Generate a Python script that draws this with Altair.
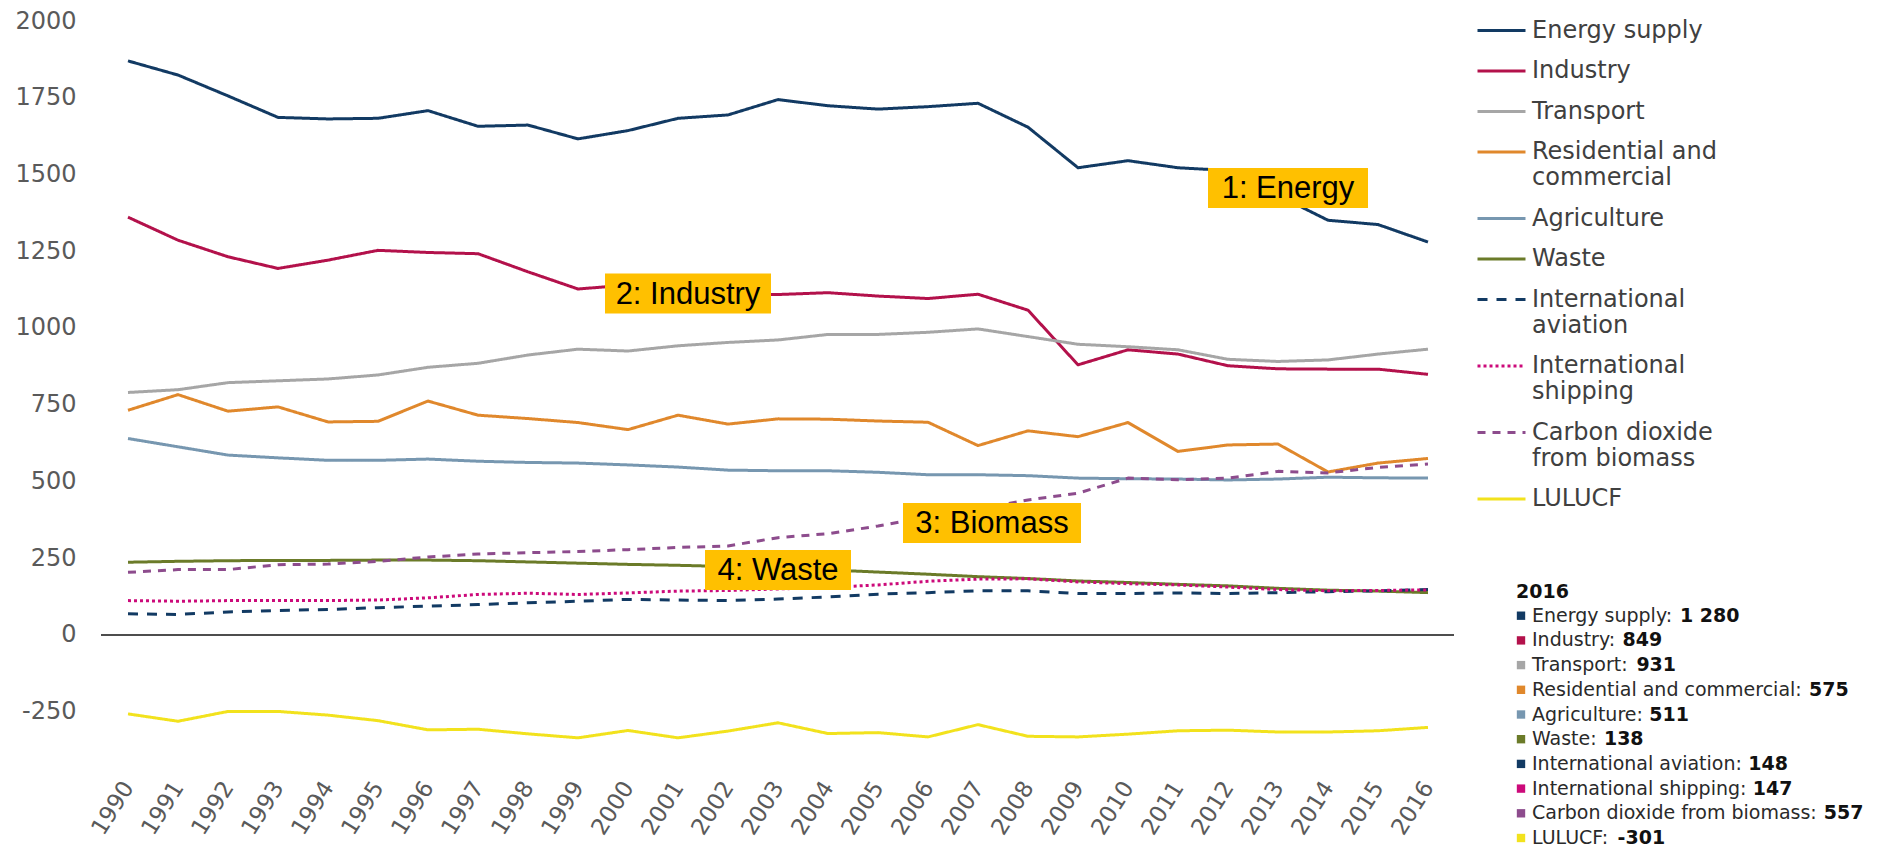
import altair as alt
import pandas as pd

# ---------------- data ----------------
years = list(range(1990, 2017))

series = ["Energy supply", "Industry", "Transport", "Residential and commercial",
          "Agriculture", "Waste", "International aviation", "International shipping",
          "Carbon dioxide from biomass", "LULUCF"]

legend_lines = [["Energy supply"], ["Industry"], ["Transport"],
                ["Residential and", "commercial"], ["Agriculture"], ["Waste"],
                ["International", "aviation"], ["International", "shipping"],
                ["Carbon dioxide", "from biomass"], ["LULUCF"]]

energy_supply = [1870, 1824, 1756, 1686, 1681, 1683, 1708, 1657, 1661, 1616, 1643,
                 1683, 1694, 1744, 1724, 1713, 1721, 1732, 1654, 1522, 1545, 1522,
                 1513, 1432, 1351, 1337, 1280]
industry = [1361, 1286, 1232, 1194, 1221, 1253, 1246, 1242, 1183, 1127, 1140,
            1118, 1107, 1109, 1115, 1104, 1096, 1110, 1058, 880, 929, 915,
            877, 867, 866, 866, 849]
transport = [790, 799, 822, 828, 834, 847, 872, 885, 912, 931, 925,
             942, 953, 961, 979, 979, 986, 997, 972, 947, 939, 929,
             898, 891, 896, 915, 931]
residential = [732, 783, 729, 743, 694, 696, 762, 716, 705, 692, 669,
               716, 687, 704, 703, 697, 693, 617, 665, 646, 692, 598,
               619, 622, 531, 560, 575]
agriculture = [640, 613, 586, 577, 569, 569, 573, 566, 562, 560, 554,
               547, 537, 535, 535, 530, 522, 522, 519, 511, 509, 508,
               505, 508, 514, 512, 511]
waste = [237, 240, 242, 243, 243, 244, 244, 242, 238, 234, 230,
         227, 223, 218, 212, 205, 198, 190, 184, 176, 171, 165,
         160, 152, 146, 143, 138]
aviation = [69, 67, 75, 80, 83, 89, 94, 99, 105, 110, 116,
            114, 112, 117, 124, 133, 138, 144, 144, 135, 135, 137,
            135, 138, 141, 144, 148]
shipping = [112, 110, 112, 112, 112, 114, 121, 132, 136, 132, 137,
            143, 145, 150, 155, 163, 175, 182, 183, 173, 167, 163,
            156, 148, 144, 145, 147]
biomass = [204, 213, 213, 229, 231, 240, 254, 264, 268, 272, 278,
           285, 290, 317, 330, 355, 385, 410, 440, 462, 511, 506,
           511, 533, 528, 546, 557]
lulucf = [-257, -281, -249, -249, -261, -279, -309, -307, -322, -335, -311,
          -335, -313, -286, -321, -318, -332, -292, -330, -332, -323, -312,
          -310, -316, -316, -312, -301]

values_by_series = [energy_supply, industry, transport, residential, agriculture,
                    waste, aviation, shipping, biomass, lulucf]

y_tick_values = [-250, 0, 250, 500, 750, 1000, 1250, 1500, 1750, 2000]

ann_text = ["1: Energy", "2: Industry", "3: Biomass", "4: Waste"]
ann_year = [2013.2, 2001.2, 2007.28, 2003.0]
ann_value = [1456, 1112, 365, 212]

summary_title = "2016"

# ---------------- styles ----------------
colors = ["#123a63", "#b3114b", "#a6a6a6", "#e0882c", "#7797b0",
          "#6b7b29", "#123a63", "#cc0a7a", "#8d4c8d", "#f2e21d"]
dashes = [[1, 0], [1, 0], [1, 0], [1, 0], [1, 0], [1, 0],
          [10, 9], [3, 3], [8, 7], [1, 0]]
ann_box_w = [160, 166, 178, 146]

DJV = {' ': 651, ':': 690, 'A': 1401, 'C': 1430, 'E': 1294, 'F': 1178, 'I': 604,
       'L': 1141, 'R': 1423, 'T': 1251, 'U': 1499, 'W': 2025, 'a': 1255, 'b': 1300,
       'c': 1126, 'd': 1300, 'e': 1260, 'f': 721, 'g': 1300, 'h': 1298, 'i': 569,
       'l': 569, 'm': 1995, 'n': 1298, 'o': 1253, 'p': 1300, 'r': 842, 's': 1067,
       't': 803, 'u': 1298, 'v': 1212, 'x': 1212, 'y': 1212}


def text_w(s, size):
    return sum(DJV.get(c, 1250) for c in s) / 2048 * size


def fmt(v):
    return f"{v:,}".replace(",", " ")


# ---------------- tables ----------------
rows = []
for name, vals in zip(series, values_by_series):
    for yr, v in zip(years, vals):
        rows.append({"series": name, "year": yr, "value": v})
df = pd.DataFrame(rows)

W, H = 1353, 746
x_scale = alt.Scale(domain=[1989.46, 2016.52], nice=False, zero=False)
y_scale = alt.Scale(domain=[-430, 2000], nice=False, zero=False)

parts = []
for name, lab in zip(series, legend_lines):
    arr = "[" + ",".join("'%s'" % l for l in lab) + "]"
    parts.append(f"datum.label == '{name}' ? {arr}")
label_expr = " : ".join(parts) + " : datum.label"

legend = alt.Legend(
    title=None, orient="none", legendX=1387, legendY=-4,
    symbolType="M-2,0H2", symbolSize=576, symbolStrokeWidth=3,
    labelFont="DejaVu Sans", labelFontSize=24, labelColor="#404040",
    labelOffset=17, rowPadding=14.5, padding=0, labelLimit=500,
    labelExpr=label_expr,
)

x_axis = alt.Axis(values=years, format="d", labelAngle=-58, labelFontSize=23,
                  labelFont="DejaVu Sans", labelColor="#5a5a5a", labelPadding=16,
                  domain=False, ticks=False, grid=False, labelOverlap=False,
                  labelFlush=False)
y_axis = alt.Axis(values=y_tick_values, labelExpr="toString(datum.value)",
                  labelFontSize=24, labelFont="DejaVu Sans",
                  labelColor="#5a5a5a", labelPadding=25, domain=False, ticks=False,
                  grid=False, labelFlush=False)

zero = alt.Chart(pd.DataFrame({"value": [0]})).mark_rule(
    color="#4d4d4d", strokeWidth=2).encode(
    y=alt.Y("value:Q", scale=y_scale, axis=y_axis, title=None))

lines = alt.Chart(df).mark_line(strokeWidth=3, strokeJoin="round").encode(
    x=alt.X("year:Q", scale=x_scale, axis=x_axis, title=None),
    y=alt.Y("value:Q", scale=y_scale, title=None),
    color=alt.Color("series:N", scale=alt.Scale(domain=series, range=colors),
                    legend=legend, sort=series),
    strokeDash=alt.StrokeDash("series:N", scale=alt.Scale(domain=series, range=dashes),
                              legend=legend, sort=series),
    order="year:Q",
)

ann_df = pd.DataFrame({"text": ann_text, "year": ann_year, "value": ann_value})
ann_layers = []
for i in range(len(ann_text)):
    sub = ann_df.iloc[[i]]
    ann_layers.append(alt.Chart(sub).mark_rect(
        width=ann_box_w[i], height=40, color="#ffc000").encode(
        x=alt.X("year:Q", scale=x_scale, title=None),
        y=alt.Y("value:Q", scale=y_scale, title=None)))
    ann_layers.append(alt.Chart(sub).mark_text(
        font="Liberation Sans", fontSize=31, color="black", align="center",
        baseline="middle", dy=1).encode(
        x=alt.X("year:Q", scale=x_scale, title=None),
        y=alt.Y("value:Q", scale=y_scale, title=None),
        text="text:N"))

sum_df = pd.DataFrame({
    "name": [s + ":" for s in series],
    "val": [fmt(v[-1]) for v in values_by_series],
    "hex": colors,
    "namew": [text_w(s + ": ", 19) for s in series],
})
sum_base = alt.Chart(sum_df).transform_window(
    idx="row_number()").transform_calculate(
    ypix="570 + datum.idx * 24.7", vx="1431 + datum.namew")

sum_sq = sum_base.mark_square(size=70, opacity=1).encode(
    x=alt.value(1420), y=alt.Y("ypix:Q", scale=None),
    color=alt.Color("hex:N", scale=None))
sum_names = sum_base.mark_text(align="left", baseline="middle", font="DejaVu Sans",
                               fontSize=19, color="#2a2a2a").encode(
    x=alt.value(1431), y=alt.Y("ypix:Q", scale=None), text="name:N")
sum_vals = sum_base.mark_text(align="left", baseline="middle", font="DejaVu Sans",
                              fontSize=19, fontWeight="bold", color="#111111").encode(
    x=alt.X("vx:Q", scale=None), y=alt.Y("ypix:Q", scale=None), text="val:N")
sum_title = alt.Chart(pd.DataFrame({"t": [summary_title]})).mark_text(
    align="left", baseline="middle", font="DejaVu Sans", fontSize=19,
    fontWeight="bold", color="#111111").encode(
    x=alt.value(1415), y=alt.value(571), text="t:N")

chart = alt.layer(zero, lines, *ann_layers, sum_sq, sum_names, sum_vals, sum_title).properties(
    width=W, height=H,
    padding={"left": 6, "top": 1, "right": 5, "bottom": 0},
    background="white",
).configure(font="DejaVu Sans").configure_view(stroke=None, strokeWidth=0)

chart.save("out.html", embed_options={"renderer": "svg", "actions": False})
